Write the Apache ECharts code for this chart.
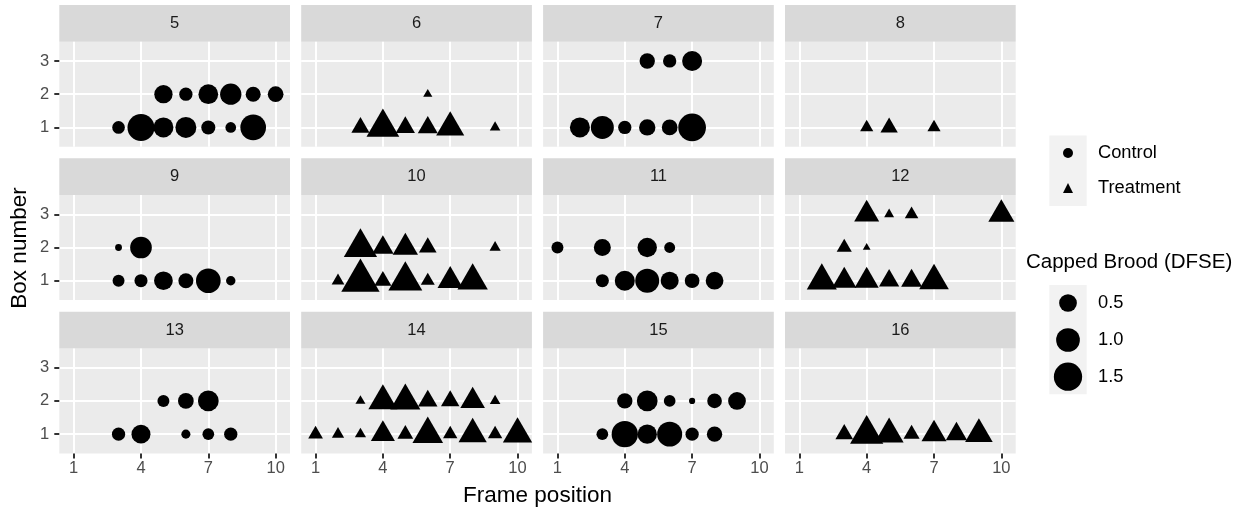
<!DOCTYPE html>
<html><head><meta charset="utf-8">
<script src="https://cdn.jsdelivr.net/npm/echarts@6/dist/echarts.min.js"></script>
<style>html,body{margin:0;padding:0;background:#fff}#c{width:1243px;height:514px}</style>
</head><body><div id="c"></div>
<script>
// ---------- data ----------
const colonyIds = [5, 6, 7, 8, 9, 10, 11, 12, 13, 14, 15, 16];
const colonyGroup = ['Control','Treatment','Control','Treatment','Control','Treatment',
                     'Control','Treatment','Control','Treatment','Control','Treatment'];
const frameTicks = [1, 4, 7, 10];
const boxTicks = [1, 2, 3];
const sizeLegendValues = [0.5, 1.0, 1.5];
const groupNames = ['Control', 'Treatment'];

// [frame position, box number, capped brood (DFSE)]
const colony5 = [[5,2,0.54],[6,2,0.24],[7,2,0.65],[8,2,0.78],[9,2,0.33],[10,2,0.37],
  [3,1,0.21],[4,1,1.35],[5,1,0.67],[6,1,0.75],[7,1,0.28],[8,1,0.13],[9,1,1.2]];
const colony6 = [[6,2,0.03],[3,1,0.25],[4,1,1.06],[5,1,0.29],[6,1,0.32],[7,1,0.74],[9,1,0.05]];
const colony7 = [[5,3,0.35],[6,3,0.24],[7,3,0.67],
  [2,1,0.67],[3,1,0.93],[4,1,0.24],[5,1,0.41],[6,1,0.37],[7,1,1.43]];
const colony8 = [[4,1,0.10],[5,1,0.22],[7,1,0.10]];
const colony9 = [[3,2,0.03],[4,2,0.81],
  [3,1,0.18],[4,1,0.23],[5,1,0.57],[6,1,0.33],[7,1,1.10],[8,1,0.09]];
const colony10 = [[3,2,1.10],[4,2,0.38],[5,2,0.58],[6,2,0.23],[9,2,0.06],
  [2,1,0.09],[3,1,1.52],[4,1,0.21],[5,1,1.15],[6,1,0.12],[7,1,0.58],[8,1,0.89]];
const colony11 = [[1,2,0.18],[3,2,0.45],[5,2,0.62],[6,2,0.14],
  [3,1,0.23],[4,1,0.67],[5,1,1.03],[6,1,0.52],[7,1,0.31],[8,1,0.50]];
const colony12 = [[4,3,0.56],[5,3,0.04],[6,3,0.11],[10,3,0.62],[3,2,0.15],[4,2,0.014],
  [2,1,0.87],[3,1,0.52],[4,1,0.51],[5,1,0.33],[6,1,0.36],[7,1,0.84]];
const colony13 = [[5,2,0.18],[6,2,0.37],[7,2,0.73],
  [3,1,0.24],[4,1,0.59],[6,1,0.08],[7,1,0.17],[8,1,0.24]];
const colony14 = [[3,2,0.04],[4,2,0.80],[5,2,0.87],[6,2,0.30],[7,2,0.26],[8,2,0.54],[9,2,0.05],
  [1,1,0.14],[2,1,0.08],[3,1,0.06],[4,1,0.51],[5,1,0.17],[6,1,0.91],[7,1,0.13],[8,1,0.75],[9,1,0.13],[10,1,0.82]];
const colony15 = [[4,2,0.35],[5,2,0.73],[6,2,0.17],[7,2,0.02],[8,2,0.31],[9,2,0.50],
  [3,1,0.17],[4,1,1.27],[5,1,0.62],[6,1,1.13],[7,1,0.24],[8,1,0.35]];
const colony16 = [[3,1,0.23],[4,1,1.10],[5,1,0.80],[6,1,0.18],[7,1,0.56],[8,1,0.38],[9,1,0.71]];
const broodByColony = [colony5, colony6, colony7, colony8, colony9, colony10,
  colony11, colony12, colony13, colony14, colony15, colony16];

// ---------- layout / style ----------
const FONT = '"Liberation Sans", Arial, sans-serif';
const colLeft = [59.3, 301.2, 543.1, 785];
const stripTop = [5, 158.3, 311.7];
const PW = 230.7, SH = 36.7, PH = 105;
const X_MIN = 0.36, X_MAX = 10.64, Y_MIN = 0.42, Y_MAX = 3.58;

function diam(v) { return 3.3 + 20.4 * Math.sqrt(v); }
function pointItem(p, tri) {
  const d = diam(p[2]);
  if (!tri) return { value: p, symbolSize: d };
  const w = 1.347 * d, h = 1.166 * d;
  return { value: p, symbolSize: [w, h], symbolOffset: [0, -h / 6] };
}

const grids = [], xAxes = [], yAxes = [], series = [], graphics = [];
colonyIds.forEach((id, i) => {
  const r = Math.floor(i / 4), c = i % 4;
  const top = stripTop[r] + SH;
  grids.push({ left: colLeft[c], top: top, width: PW, height: PH, show: true,
    backgroundColor: '#EBEBEB', borderWidth: 0 });
  const bottom = r === 2, leftCol = c === 0;
  xAxes.push({ gridIndex: i, type: 'value', min: X_MIN, max: X_MAX,
    axisLine: { show: false },
    axisTick: { show: bottom, customValues: frameTicks, length: 5, lineStyle: { color: '#333333', width: 2 } },
    axisLabel: { show: bottom, customValues: frameTicks, color: '#4D4D4D', fontSize: 16.5, fontFamily: FONT, margin: 7 },
    splitLine: { show: true, lineStyle: { color: '#FFFFFF', width: 2 } } });
  yAxes.push({ gridIndex: i, type: 'value', min: Y_MIN, max: Y_MAX,
    axisLine: { show: false },
    axisTick: { show: leftCol, customValues: boxTicks, length: 5, lineStyle: { color: '#333333', width: 2 } },
    axisLabel: { show: leftCol, customValues: boxTicks, color: '#4D4D4D', fontSize: 16.5, fontFamily: FONT, margin: 10 },
    splitLine: { show: true, lineStyle: { color: '#FFFFFF', width: 2 } } });
  const tri = colonyGroup[i] === 'Treatment';
  series.push({ type: 'scatter', name: colonyGroup[i], xAxisIndex: i, yAxisIndex: i,
    symbol: tri ? 'triangle' : 'circle', itemStyle: { color: '#000000', opacity: 1 },
    data: broodByColony[i].map(p => pointItem(p, tri)) });
  // strip
  graphics.push({ type: 'rect', shape: { x: colLeft[c], y: stripTop[r], width: PW, height: SH },
    style: { fill: '#D9D9D9' }, silent: true });
  graphics.push({ type: 'text', x: colLeft[c] + PW / 2, y: stripTop[r] + SH / 2,
    style: { text: String(id), fill: '#1A1A1A', fontSize: 16.5, fontFamily: FONT, align: 'center', verticalAlign: 'middle' } });
});

// axis titles
graphics.push({ type: 'text', x: 537.5, y: 496, style: { text: 'Frame position', fill: '#000', fontSize: 22.5,
  fontFamily: FONT, align: 'center', verticalAlign: 'middle' } });
graphics.push({ type: 'text', x: 20, y: 248, rotation: Math.PI / 2, style: { text: 'Box number', fill: '#000',
  fontSize: 22.5, fontFamily: FONT, align: 'center', verticalAlign: 'middle' } });

// shape legend key background
graphics.push({ type: 'rect', shape: { x: 1049.3, y: 135.5, width: 37.4, height: 70.5 }, style: { fill: '#F2F2F2' }, z: -1 });
// size legend
graphics.push({ type: 'text', x: 1026, y: 262, style: { text: 'Capped Brood (DFSE)', fill: '#000', fontSize: 20.5,
  fontFamily: FONT, align: 'left', verticalAlign: 'middle' } });
graphics.push({ type: 'rect', shape: { x: 1049.3, y: 285, width: 37.4, height: 109.3 }, style: { fill: '#F2F2F2' }, z: -1 });
const sizeKeyY = [303, 340, 376.7];
sizeLegendValues.forEach((v, k) => {
  graphics.push({ type: 'circle', shape: { cx: 1068, cy: sizeKeyY[k], r: diam(v) / 2 }, style: { fill: '#000' } });
  graphics.push({ type: 'text', x: 1098, y: sizeKeyY[k], style: { text: v.toFixed(1), fill: '#000', fontSize: 18.3,
    fontFamily: FONT, align: 'left', verticalAlign: 'middle' } });
});

const chart = echarts.init(document.getElementById('c'), null, { renderer: 'canvas' });
chart.setOption({
  animation: false,
  backgroundColor: '#FFFFFF',
  grid: grids, xAxis: xAxes, yAxis: yAxes, series: series,
  legend: { orient: 'vertical', left: 1063, top: 143, padding: 0, itemWidth: 10, itemHeight: 10, itemGap: 15,
    selectedMode: false,
    data: [{ name: groupNames[0], icon: 'circle' }, { name: groupNames[1], icon: 'triangle' }],
    textStyle: { fontSize: 18.3, color: '#000', fontFamily: FONT, lineHeight: 20, padding: [0, 0, 0, 20] } },
  graphic: { elements: graphics }
});
</script></body></html>
